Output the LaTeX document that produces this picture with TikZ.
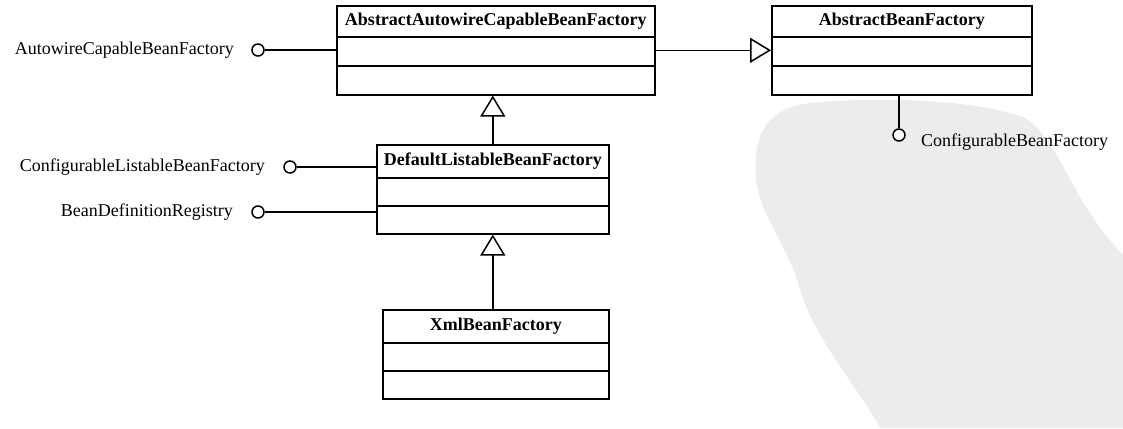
\documentclass[tikz,border=0pt]{standalone}
\usepackage{fontspec}
\setmainfont{Liberation Serif}
\usetikzlibrary{arrows.meta,calc}
\definecolor{wm}{HTML}{ECECEC}
\tikzset{
  cls/.style={draw, line width=1.6pt, anchor=north west, inner sep=0pt},
  ttl/.style={font=\fontsize{18}{20}\selectfont\bfseries, inner sep=0pt},
  lab/.style={font=\fontsize{18}{20}\selectfont, inner sep=0pt},
  lolli/.style={circle, draw, line width=1.5pt, fill=white, minimum size=12pt, inner sep=0pt},
  conn/.style={line width=1.5pt},
  gen/.style={line width=1.5pt, -{Triangle[open, length=21pt, width=25pt, line width=1.5pt]}},
  divider/.style={line width=1.5pt}
}
\begin{document}
\begin{tikzpicture}[x=1pt,y=1pt]
\useasboundingbox (0,0) rectangle (1123,-428);
% watermark blob
\fill[wm] (880,-428) .. controls (860,-390) and (815,-340) .. (800,-290)
  .. controls (790,-250) and (760,-215) .. (756,-180)
  .. controls (752,-130) and (770,-108) .. (810,-103)
  .. controls (880,-96) and (980,-100) .. (1025,-118)
  .. controls (1060,-140) and (1070,-200) .. (1123,-255)
  -- (1123,-428) -- cycle;
% classes
\node[cls, minimum width=318pt, minimum height=89pt] (b1) at (336,-5) {};
\node[ttl] (b1t) at ($(b1.north)+(0,-16)$) {AbstractAutowireCapableBeanFactory};
\draw[divider] (b1.west |- 0,-37) -- (b1.east |- 0,-37);
\draw[divider] (b1.west |- 0,-66) -- (b1.east |- 0,-66);

\node[cls, minimum width=260pt, minimum height=89pt] (b2) at (771,-5) {};
\node[ttl] (b2t) at ($(b2.north)+(0,-16)$) {AbstractBeanFactory};
\draw[divider] (b2.west |- 0,-37) -- (b2.east |- 0,-37);
\draw[divider] (b2.west |- 0,-66) -- (b2.east |- 0,-66);

\node[cls, minimum width=232pt, minimum height=89pt] (b3) at (376,-144) {};
\node[ttl] (b3t) at ($(b3.north)+(0,-17)$) {DefaultListableBeanFactory};
\draw[divider] (b3.west |- 0,-178) -- (b3.east |- 0,-178);
\draw[divider] (b3.west |- 0,-206) -- (b3.east |- 0,-206);

\node[cls, minimum width=226pt, minimum height=89pt] (b4) at (382,-309) {};
\node[ttl] (b4t) at ($(b4.north)+(0,-17)$) {XmlBeanFactory};
\draw[divider] (b4.west |- 0,-343) -- (b4.east |- 0,-343);
\draw[divider] (b4.west |- 0,-371) -- (b4.east |- 0,-371);

% generalizations
\draw[gen] (b1.east) -- (b2.west);
\draw[gen] (b3.north) -- (b3.north |- b1.south);
\draw[gen] (b4.north -| b3.south) -- (b3.south);

% lollipops
\node[lolli] (c1) at (258,-50) {};
\draw[conn] (c1) -- (c1 -| b1.west);
\node[lab, anchor=east] (l1) at (234,-50) {AutowireCapableBeanFactory};

\node[lolli] (c2) at (290,-167) {};
\draw[conn] (c2) -- (c2 -| b3.west);
\node[lab, anchor=east] (l2) at (265,-167) {ConfigurableListableBeanFactory};

\node[lolli] (c3) at (258,-212) {};
\draw[conn] (c3) -- (c3 -| b3.west);
\node[lab, anchor=east] (l3) at (233,-212) {BeanDefinitionRegistry};

\node[lolli] (c4) at (899,-135) {};
\draw[conn] (c4 |- b2.south) -- (c4);
\node[lab, anchor=west] (l4) at (921,-142) {ConfigurableBeanFactory};
\end{tikzpicture}
\end{document}
